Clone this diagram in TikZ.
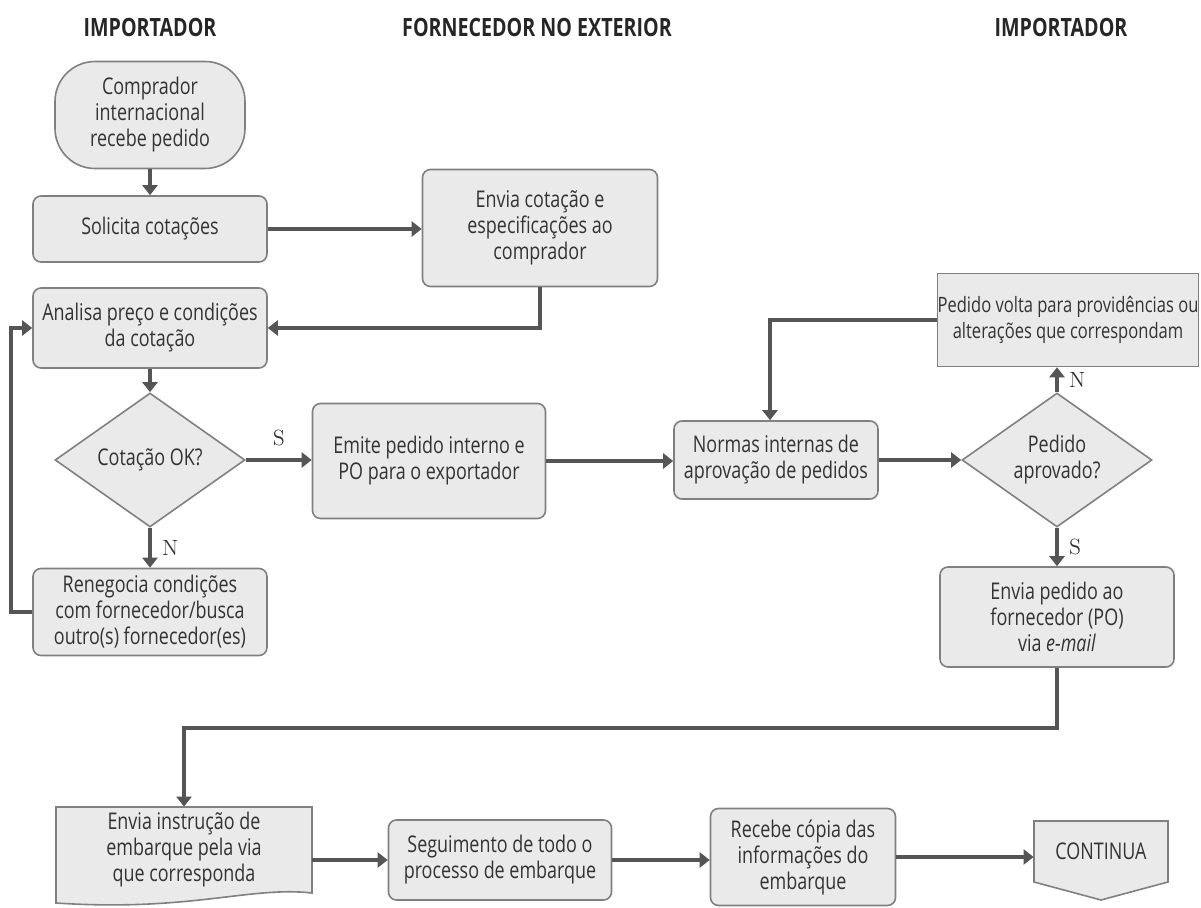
\documentclass[tikz,border=0pt]{standalone}
\usepackage{fontspec}
\setsansfont{Open Sans}[FakeStretch=0.78]
\usetikzlibrary{arrows.meta,shapes.geometric}
\definecolor{boxfill}{HTML}{EAEAEA}
\definecolor{boxline}{HTML}{808080}
\definecolor{flowline}{HTML}{555555}
\definecolor{txt}{HTML}{333333}
\begin{document}
\begin{tikzpicture}[x=0.5pt,y=-0.5pt,
  every node/.style={font=\sffamily\fontsize{11.5}{13}\selectfont, text=txt, align=center, inner sep=0pt},
  title/.style={font=\sffamily\bfseries\fontsize{12.6}{14}\selectfont, text=black!85},
  proc/.style={draw=boxline, fill=boxfill, line width=0.8pt, rounded corners=4pt},
  decision/.style={diamond, draw=boxline, fill=boxfill, line width=0.8pt, aspect=1.4, minimum width=95pt, minimum height=67pt},
  arr/.style={draw=flowline, line width=2pt, -{Triangle[length=5pt,width=7.5pt]}},
  lbl/.style={font=\rmfamily\fontsize{11}{12}\selectfont, text=txt}]
\useasboundingbox (0,0) rectangle (1201,908);
% column titles
\node[title] (impa) at (150,27) {IMPORTADOR};
\node[title] (forn) at (537,27) {FORNECEDOR NO EXTERIOR};
\node[title] (impb) at (1061,27) {IMPORTADOR};
% upper part
\node[proc, rounded corners=20pt, minimum width=95pt, minimum height=53.5pt] (start) at (150,115) {Comprador\\internacional\\recebe pedido};
\node[proc, minimum width=117pt, minimum height=33pt] (solic) at (150,229) {Solicita cotações};
\node[proc, minimum width=117.5pt, minimum height=58.5pt] (envcot) at (540,228) {Envia cotação e\\especificações ao\\comprador};
\node[proc, minimum width=117pt, minimum height=40pt] (analisa) at (150,328) {Analisa preço e condições\\da cotação};
\node[decision] (cotok) at (150,460) {Cotação OK?};
\node[proc, minimum width=116.5pt, minimum height=57.5pt] (emite) at (429,461) {Emite pedido interno e\\PO para o exportador};
\node[proc, minimum width=117pt, minimum height=43.5pt] (reneg) at (150,612) {Renegocia condições\\com fornecedor/busca\\outro(s) fornecedor(es)};
\node[proc, minimum width=102pt, minimum height=39pt] (normas) at (776,460) {Normas internas de\\aprovação de pedidos};
\node[proc, rounded corners=0pt, minimum width=126.5pt, minimum height=46.5pt, font=\sffamily\fontsize{10.6}{13}\selectfont] (volta) at (1068,320) {Pedido volta para providências ou\\alterações que correspondam};
\node[decision] (aprov) at (1057,460) {Pedido\\aprovado?};
\node[proc, minimum width=117pt, minimum height=50pt] (envped) at (1057,617) {Envia pedido ao\\fornecedor (PO)\\via \textit{e-mail}};
% lower part
\draw[proc, rounded corners=0pt] (56,807) -- (312,807) -- (312,893) .. controls (250,886) and (190,912) .. (56,903) -- cycle;
\node[minimum width=128pt, minimum height=43pt] (envinstr) at (184,850) {Envia instrução de\\embarque pela via\\que corresponda};
\node[proc, minimum width=111.5pt, minimum height=40pt] (seg) at (500,860) {Seguimento de todo o\\processo de embarque};
\node[proc, minimum width=92.5pt, minimum height=48.5pt] (recebe) at (803,857) {Recebe cópia das\\informações do\\embarque};
\draw[proc, rounded corners=0pt] (1034,821) -- (1168,821) -- (1168,882) -- (1101,900) -- (1034,882) -- cycle;
\node[minimum width=67pt, minimum height=30.5pt] (cont) at (1101,851.5) {CONTINUA};
% connectors
\draw[arr] (start) -- (solic);
\draw[arr] (solic.east) -- (solic.east -| envcot.west);
\draw[arr] (envcot.south) |- (analisa.east);
\draw[arr] (analisa) -- (cotok);
\draw[arr] (cotok.east) -- node[lbl, above=6pt] {S} (cotok.east -| emite.west);
\draw[arr] (cotok.south) -- node[lbl, right=5pt] {N} (reneg.north);
\draw[arr] (reneg.west) -- ++(-21,0) |- (analisa.west);
\draw[arr] (emite.east) -- (emite.east -| normas.west);
\draw[arr] (volta.west) -| ([xshift=-3pt]normas.north);
\draw[arr] (normas.east) -- (normas.east -| aprov.west);
\draw[arr] (aprov.north) -- node[lbl, right=5pt] {N} (aprov.north |- volta.south);
\draw[arr] (aprov.south) -- node[lbl, right=5pt] {S} (envped.north);
\draw[arr] (envped.south) -- ++(0,60) -| (envinstr.north);
\draw[arr] (seg.west -| envinstr.east) -- (seg.west);
\draw[arr] (seg.east) -- (seg.east -| recebe.west);
\draw[arr] (recebe.east) -- (recebe.east -| cont.west);
\end{tikzpicture}
\end{document}
